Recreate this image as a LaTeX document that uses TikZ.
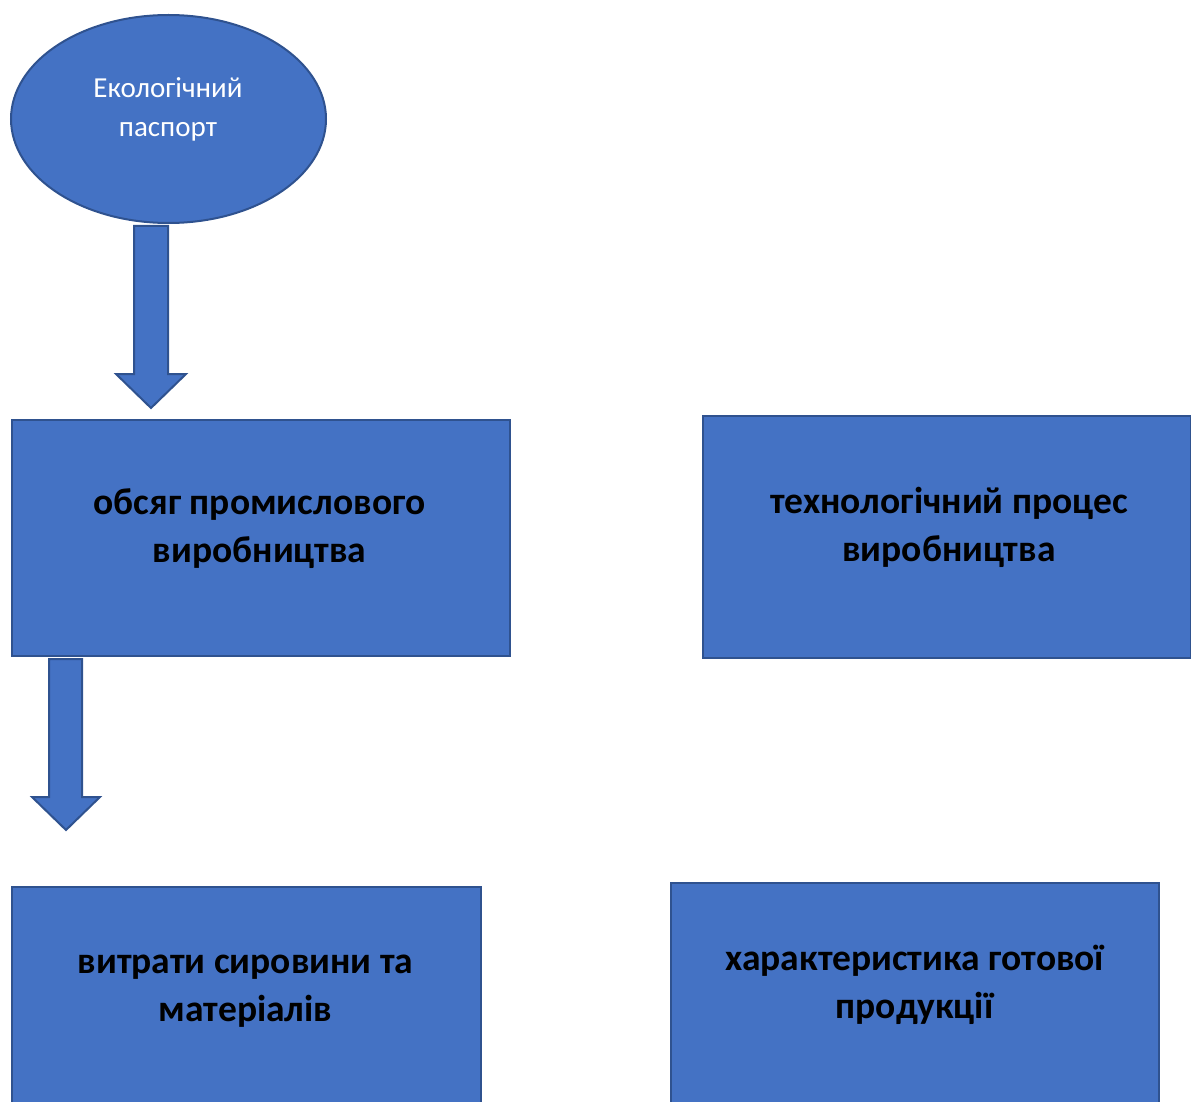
\documentclass[tikz,border=0pt]{standalone}
\usepackage{fontspec}
\setmainfont{Carlito}
\usetikzlibrary{shapes.geometric}
\definecolor{boxfill}{HTML}{4472C4}
\definecolor{boxline}{HTML}{2F528F}
\begin{document}
\begin{tikzpicture}[x=1pt,y=-1pt,
  blockbox/.style={draw=boxline,fill=boxfill,line width=2pt,rectangle,inner sep=0pt,anchor=north west},
  blocktext/.style={align=center,inner sep=0pt,font=\fontsize{37.5}{48}\selectfont\bfseries,text=black},
  blockarrow/.style={draw=boxline,fill=boxfill,line width=2pt,line join=miter}]
\useasboundingbox (0,0) rectangle (1191,1102);
\clip (0,0) rectangle (1191,1102);
% ellipse
\node[ellipse,draw=boxline,fill=boxfill,line width=2pt,minimum width=315pt,minimum height=208pt,inner sep=0pt] (eco) at (168.5,119) {};
\node[align=center,inner sep=0pt,font=\fontsize{29}{39}\selectfont,text=white] (ecot) at (168,109.5) {Екологічний\\паспорт};
% boxes
\node[blockbox,minimum width=498pt,minimum height=236pt] (b1) at (11,419) {};
\node[blocktext] (b1t) at (259.5,529) {обсяг промислового\\виробництва};
\node[blockbox,minimum width=488pt,minimum height=242pt] (b2) at (702,415) {};
\node[blocktext] (b2t) at (949,527) {технологічний процес\\виробництва};
\node[blockbox,minimum width=469pt,minimum height=240pt] (b3) at (11,886) {};
\node[blocktext] (b3t) at (245.5,991) {витрати сировини та\\матеріалів};
\node[blockbox,minimum width=488pt,minimum height=240pt] (b4) at (670,882) {};
\node[blocktext] (b4t) at (914.5,985) {характеристика готової\\продукції};
% block arrows
\coordinate (a1) at (151,226);
\draw[blockarrow] (134,226) -- (168,226) -- (168,374) -- (186,374) -- (151,408) -- (116,374) -- (134,374) -- cycle;
\coordinate (a2) at (66,659);
\draw[blockarrow] (49,659) -- (82,659) -- (82,797) -- (100,797) -- (66,830) -- (32,797) -- (49,797) -- cycle;
\end{tikzpicture}
\end{document}
